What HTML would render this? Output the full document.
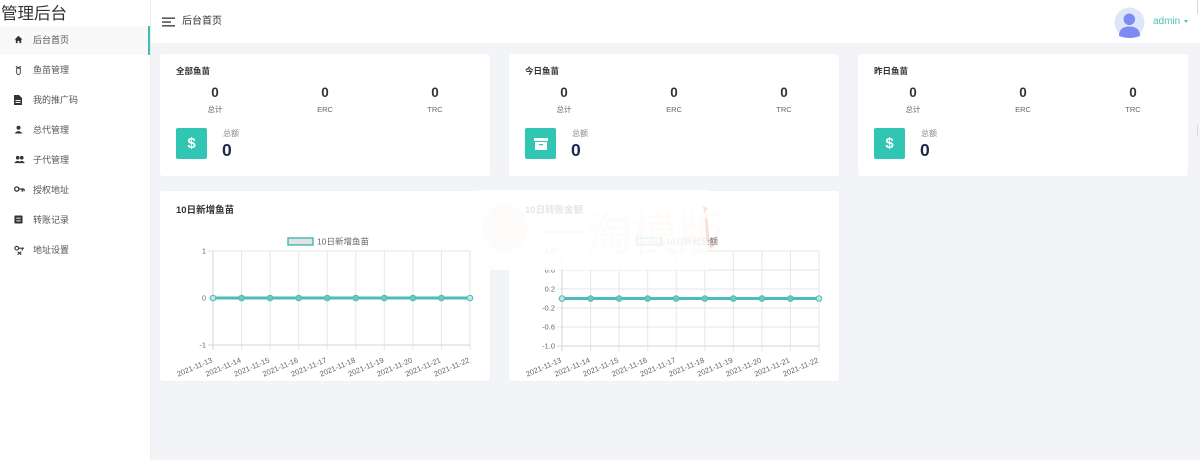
<!DOCTYPE html>
<html><head><meta charset="utf-8">
<style>
*{margin:0;padding:0;box-sizing:border-box}
html,body{width:1200px;height:460px;overflow:hidden;background:#f3f4f8;font-family:"Liberation Sans","Noto Sans CJK SC",sans-serif;color:#333}
.abs{position:absolute}
#side{left:0;top:0;width:151px;height:460px;background:#fff;border-right:1px solid #ececec}
#title{left:1px;top:3px;font-size:16.5px;color:#333;line-height:22px;white-space:nowrap}
.item{position:absolute;left:0;width:150px;height:29px;font-size:9px;color:#555;line-height:29px}
.item span{position:absolute;left:33px}
.item svg{position:absolute;left:14px;top:9px}
.active{background:#f9f9f9;border-right:2px solid #3cc2b5}
#header{left:151px;top:0;width:1049px;height:43px;background:#fff}
.card{position:absolute;background:#fff;border-radius:3px;box-shadow:0 0 2px rgba(0,0,0,0.03)}
.ctitle{position:absolute;left:16px;font-size:8.5px;font-weight:bold;color:#333;white-space:nowrap}
.num{position:absolute;width:110px;text-align:center;font-size:13.5px;font-weight:bold;color:#333;top:31px;line-height:15px}
.lab{position:absolute;width:110px;text-align:center;font-size:7.5px;color:#666;top:51px;line-height:10px}
.ibox{position:absolute;left:16px;top:74px;width:31px;height:31px;background:#31c6b3;border-radius:2px;color:#fff;font-weight:bold;font-size:15px;text-align:center;line-height:31px}
.tlab{position:absolute;left:63px;top:75px;font-size:8px;color:#888;line-height:10px}
.big{position:absolute;left:62px;top:86px;font-size:17.5px;font-weight:bold;color:#1e2a4d;line-height:20px}
</style></head><body>

<div id="side" class="abs">
  <div id="title" class="abs">管理后台</div>
  <div class="item active" style="top:26px"><svg width="9" height="9" viewBox="0 0 10 10"><path d="M5 1 L9.5 5 H8 V9 H6 V6.5 H4 V9 H2 V5 H0.5Z" fill="#333"/></svg><span>后台首页</span></div>
  <div class="item" style="top:56px"><svg width="9" height="10" viewBox="0 0 10 10"><path d="M2 1 L4 2 H6 L8 1 M3 3 H7 V8 A2 2 0 0 1 3 8Z" fill="none" stroke="#333" stroke-width="1"/></svg><span>鱼苗管理</span></div>
  <div class="item" style="top:86px"><svg width="8" height="10" viewBox="0 0 8 10"><path d="M0 0 H5 L8 3 V10 H0Z" fill="#333"/><rect x="1.5" y="5" width="5" height="1" fill="#fff"/><rect x="1.5" y="7" width="5" height="1" fill="#fff"/></svg><span>我的推广码</span></div>
  <div class="item" style="top:116px"><svg width="9" height="9" viewBox="0 0 10 10"><circle cx="5" cy="3" r="2.2" fill="#333"/><path d="M0.5 9.5 Q5 4 9.5 9.5Z" fill="#333"/></svg><span>总代管理</span></div>
  <div class="item" style="top:146px"><svg width="11" height="9" viewBox="0 0 12 10"><circle cx="4" cy="3" r="2" fill="#333"/><circle cx="8.5" cy="3" r="2" fill="#333"/><path d="M0 9 Q4 4 8 9Z M5 9 Q8.5 4 12 9Z" fill="#333"/></svg><span>子代管理</span></div>
  <div class="item" style="top:176px"><svg width="11" height="8" viewBox="0 0 12 8"><circle cx="3" cy="4" r="2.3" fill="none" stroke="#333" stroke-width="1.4"/><path d="M5 4 H11 M9 4 V7 M11 4 V6.5" stroke="#333" stroke-width="1.4"/></svg><span>授权地址</span></div>
  <div class="item" style="top:206px"><svg width="9" height="9" viewBox="0 0 10 10"><rect x="0.5" y="0.5" width="9" height="9" rx="1" fill="#333"/><rect x="2.5" y="3" width="5" height="1" fill="#fff"/><rect x="2.5" y="6" width="5" height="1" fill="#fff"/></svg><span>转账记录</span></div>
  <div class="item" style="top:236px"><svg width="11" height="10" viewBox="0 0 12 10"><circle cx="3" cy="3" r="2" fill="none" stroke="#333" stroke-width="1.2"/><path d="M5 3 H11 M9 3 V5.5 M4 7 L8 10 M8 7 L4 10" stroke="#333" stroke-width="1.2"/></svg><span>地址设置</span></div>
</div>

<div id="header" class="abs">
  <svg class="abs" style="left:11px;top:17px" width="13" height="10" viewBox="0 0 13 10"><rect x="0" y="0.5" width="13" height="1.3" fill="#333"/><rect x="0" y="4.4" width="9" height="1.3" fill="#333"/><rect x="0" y="8.2" width="13" height="1.3" fill="#333"/></svg>
  <div class="abs" style="left:31px;top:15px;font-size:10px;color:#333;line-height:14px">后台首页</div>
  <svg class="abs" style="left:963px;top:7px" width="31" height="31" viewBox="0 0 31 31"><circle cx="15.5" cy="15.5" r="15" fill="#dfe6f7"/><circle cx="15.3" cy="12.3" r="5.8" fill="#7d8cf2"/><path d="M5 29 Q5 19.5 15.5 19.5 Q26 19.5 26 29 Q15.5 33 5 29Z" fill="#7d8cf2"/></svg>
  <div class="abs" style="left:1002px;top:15px;font-size:10px;color:#4cc3b5;line-height:14px">admin</div>
  <div class="abs" style="left:1033px;top:20px;width:0;height:0;border-left:2.5px solid transparent;border-right:2.5px solid transparent;border-top:3px solid #4cc3b5"></div>
</div>
<div class="abs" style="left:1197px;top:0;width:1px;height:14px;background:#d8d8d8"></div>
<div class="abs" style="left:1197px;top:125px;width:1px;height:12px;background:#d8d8d8"></div>

<!-- stat cards -->
<div class="card" style="left:160px;top:54px;width:330px;height:122px">
  <div class="ctitle" style="top:11px">全部鱼苗</div>
  <div class="num" style="left:0">0</div><div class="num" style="left:110px">0</div><div class="num" style="left:220px">0</div>
  <div class="lab" style="left:0">总计</div><div class="lab" style="left:110px">ERC</div><div class="lab" style="left:220px">TRC</div>
  <div class="ibox">$</div>
  <div class="tlab">总额</div><div class="big">0</div>
</div>
<div class="card" style="left:509px;top:54px;width:330px;height:122px">
  <div class="ctitle" style="top:11px">今日鱼苗</div>
  <div class="num" style="left:0">0</div><div class="num" style="left:110px">0</div><div class="num" style="left:220px">0</div>
  <div class="lab" style="left:0">总计</div><div class="lab" style="left:110px">ERC</div><div class="lab" style="left:220px">TRC</div>
  <div class="ibox"><svg width="14" height="12" viewBox="0 0 14 12" style="margin-top:10px"><rect x="0" y="0" width="14" height="3" fill="#fff"/><rect x="1" y="4" width="12" height="8" fill="#fff"/><rect x="5" y="6" width="4" height="1.2" fill="#31c6b3"/></svg></div>
  <div class="tlab">总额</div><div class="big">0</div>
</div>
<div class="card" style="left:858px;top:54px;width:330px;height:122px">
  <div class="ctitle" style="top:11px">昨日鱼苗</div>
  <div class="num" style="left:0">0</div><div class="num" style="left:110px">0</div><div class="num" style="left:220px">0</div>
  <div class="lab" style="left:0">总计</div><div class="lab" style="left:110px">ERC</div><div class="lab" style="left:220px">TRC</div>
  <div class="ibox">$</div>
  <div class="tlab">总额</div><div class="big">0</div>
</div>

<!-- chart cards -->
<div class="card" style="left:160px;top:191px;width:330px;height:190px">
  <div class="ctitle" style="top:11px;font-size:9.5px">10日新增鱼苗</div>
</div>
<div class="card" style="left:509px;top:191px;width:330px;height:190px">
  <div class="ctitle" style="top:11px;font-size:9.5px">10日转账金额</div>
</div>

<svg class="abs" style="left:0;top:0" width="1200" height="460" viewBox="0 0 1200 460" font-family="Liberation Sans, Noto Sans CJK SC, sans-serif">
  <!-- chart 1 -->
  <g stroke="#e6e6e6" stroke-width="1">
    <line x1="241.6" y1="251" x2="241.6" y2="350"/><line x1="270.1" y1="251" x2="270.1" y2="350"/><line x1="298.7" y1="251" x2="298.7" y2="350"/><line x1="327.2" y1="251" x2="327.2" y2="350"/><line x1="355.8" y1="251" x2="355.8" y2="350"/><line x1="384.3" y1="251" x2="384.3" y2="350"/><line x1="412.9" y1="251" x2="412.9" y2="350"/><line x1="441.4" y1="251" x2="441.4" y2="350"/><line x1="470" y1="251" x2="470" y2="350"/>
    <line x1="208" y1="251" x2="470" y2="251"/><line x1="208" y1="298" x2="470" y2="298"/>
  </g>
  <g stroke="#d4d4d4" stroke-width="1">
    <line x1="213" y1="251" x2="213" y2="350"/><line x1="208" y1="345" x2="470" y2="345"/>
  </g>
  <g font-size="7.5" fill="#666" text-anchor="end">
    <text x="206" y="253.5">1</text><text x="206" y="300.5">0</text><text x="206" y="347.5">-1</text>
  </g>
  <rect x="288" y="238" width="25" height="7" fill="#e3e3e3" stroke="#4dbcb5" stroke-width="1.5"/>
  <text x="317" y="244.5" font-size="8.5" fill="#666">10日新增鱼苗</text>
  <line x1="213" y1="298" x2="470" y2="298" stroke="#4dbcb5" stroke-width="3"/>
  <g fill="#6ec8c1" stroke="#4dbcb5" stroke-width="1">
    <circle cx="213" cy="298" r="2.8" fill="#bfe6e3"/><circle cx="241.6" cy="298" r="2.8"/><circle cx="270.1" cy="298" r="2.8"/><circle cx="298.7" cy="298" r="2.8"/><circle cx="327.2" cy="298" r="2.8"/><circle cx="355.8" cy="298" r="2.8"/><circle cx="384.3" cy="298" r="2.8"/><circle cx="412.9" cy="298" r="2.8"/><circle cx="441.4" cy="298" r="2.8"/><circle cx="470" cy="298" r="2.8" fill="#bfe6e3"/>
  </g>
  <g font-size="7.5" fill="#666" text-anchor="end">
    <text transform="translate(213,362) rotate(-23)">2021-11-13</text>
    <text transform="translate(241.6,362) rotate(-23)">2021-11-14</text>
    <text transform="translate(270.1,362) rotate(-23)">2021-11-15</text>
    <text transform="translate(298.7,362) rotate(-23)">2021-11-16</text>
    <text transform="translate(327.2,362) rotate(-23)">2021-11-17</text>
    <text transform="translate(355.8,362) rotate(-23)">2021-11-18</text>
    <text transform="translate(384.3,362) rotate(-23)">2021-11-19</text>
    <text transform="translate(412.9,362) rotate(-23)">2021-11-20</text>
    <text transform="translate(441.4,362) rotate(-23)">2021-11-21</text>
    <text transform="translate(470,362) rotate(-23)">2021-11-22</text>
  </g>

  <!-- chart 2 -->
  <g stroke="#e6e6e6" stroke-width="1">
    <line x1="590.6" y1="251" x2="590.6" y2="351"/><line x1="619.1" y1="251" x2="619.1" y2="351"/><line x1="647.7" y1="251" x2="647.7" y2="351"/><line x1="676.2" y1="251" x2="676.2" y2="351"/><line x1="704.8" y1="251" x2="704.8" y2="351"/><line x1="733.3" y1="251" x2="733.3" y2="351"/><line x1="761.9" y1="251" x2="761.9" y2="351"/><line x1="790.4" y1="251" x2="790.4" y2="351"/><line x1="819" y1="251" x2="819" y2="351"/>
    <line x1="557" y1="251" x2="819" y2="251"/><line x1="557" y1="270" x2="819" y2="270"/><line x1="557" y1="289" x2="819" y2="289"/><line x1="557" y1="308" x2="819" y2="308"/><line x1="557" y1="327" x2="819" y2="327"/>
  </g>
  <g stroke="#d4d4d4" stroke-width="1">
    <line x1="562" y1="251" x2="562" y2="351"/><line x1="557" y1="346" x2="819" y2="346"/>
  </g>
  <g font-size="7.5" fill="#666" text-anchor="end">
    <text x="555" y="253.5">1.0</text><text x="555" y="272.5">0.6</text><text x="555" y="291.5">0.2</text><text x="555" y="310.5">-0.2</text><text x="555" y="329.5">-0.6</text><text x="555" y="348.5">-1.0</text>
  </g>
  <rect x="637" y="238" width="25" height="7" fill="#e3e3e3" stroke="#4dbcb5" stroke-width="1.5"/>
  <text x="666" y="244.5" font-size="8.5" fill="#666">10日转账金额</text>
  <line x1="562" y1="298.5" x2="819" y2="298.5" stroke="#4dbcb5" stroke-width="3"/>
  <g fill="#6ec8c1" stroke="#4dbcb5" stroke-width="1">
    <circle cx="562" cy="298.5" r="2.8" fill="#bfe6e3"/><circle cx="590.6" cy="298.5" r="2.8"/><circle cx="619.1" cy="298.5" r="2.8"/><circle cx="647.7" cy="298.5" r="2.8"/><circle cx="676.2" cy="298.5" r="2.8"/><circle cx="704.8" cy="298.5" r="2.8"/><circle cx="733.3" cy="298.5" r="2.8"/><circle cx="761.9" cy="298.5" r="2.8"/><circle cx="790.4" cy="298.5" r="2.8"/><circle cx="819" cy="298.5" r="2.8" fill="#bfe6e3"/>
  </g>
  <g font-size="7.5" fill="#666" text-anchor="end">
    <text transform="translate(562,362) rotate(-23)">2021-11-13</text>
    <text transform="translate(590.6,362) rotate(-23)">2021-11-14</text>
    <text transform="translate(619.1,362) rotate(-23)">2021-11-15</text>
    <text transform="translate(647.7,362) rotate(-23)">2021-11-16</text>
    <text transform="translate(676.2,362) rotate(-23)">2021-11-17</text>
    <text transform="translate(704.8,362) rotate(-23)">2021-11-18</text>
    <text transform="translate(733.3,362) rotate(-23)">2021-11-19</text>
    <text transform="translate(761.9,362) rotate(-23)">2021-11-20</text>
    <text transform="translate(790.4,362) rotate(-23)">2021-11-21</text>
    <text transform="translate(819,362) rotate(-23)">2021-11-22</text>
  </g>

  <!-- watermark overlay -->
  <rect x="478" y="190" width="230" height="80" fill="#ffffff" fill-opacity="0.88"/>
  <circle cx="505" cy="228" r="23" fill="#f6d8c4" fill-opacity="0.08"/>
  <text x="540" y="250" font-size="46" fill="#f3d2bd" fill-opacity="0.09" font-family="Noto Sans CJK SC, sans-serif">一淘模版</text>
  <path d="M703 206 L708 208 L704 214 Z" fill="#f0b98f" fill-opacity="0.35"/>
  <path d="M706 218 L708 240 L712 248" fill="none" stroke="#eaa095" stroke-opacity="0.3" stroke-width="3"/>
</svg>
</body></html>
